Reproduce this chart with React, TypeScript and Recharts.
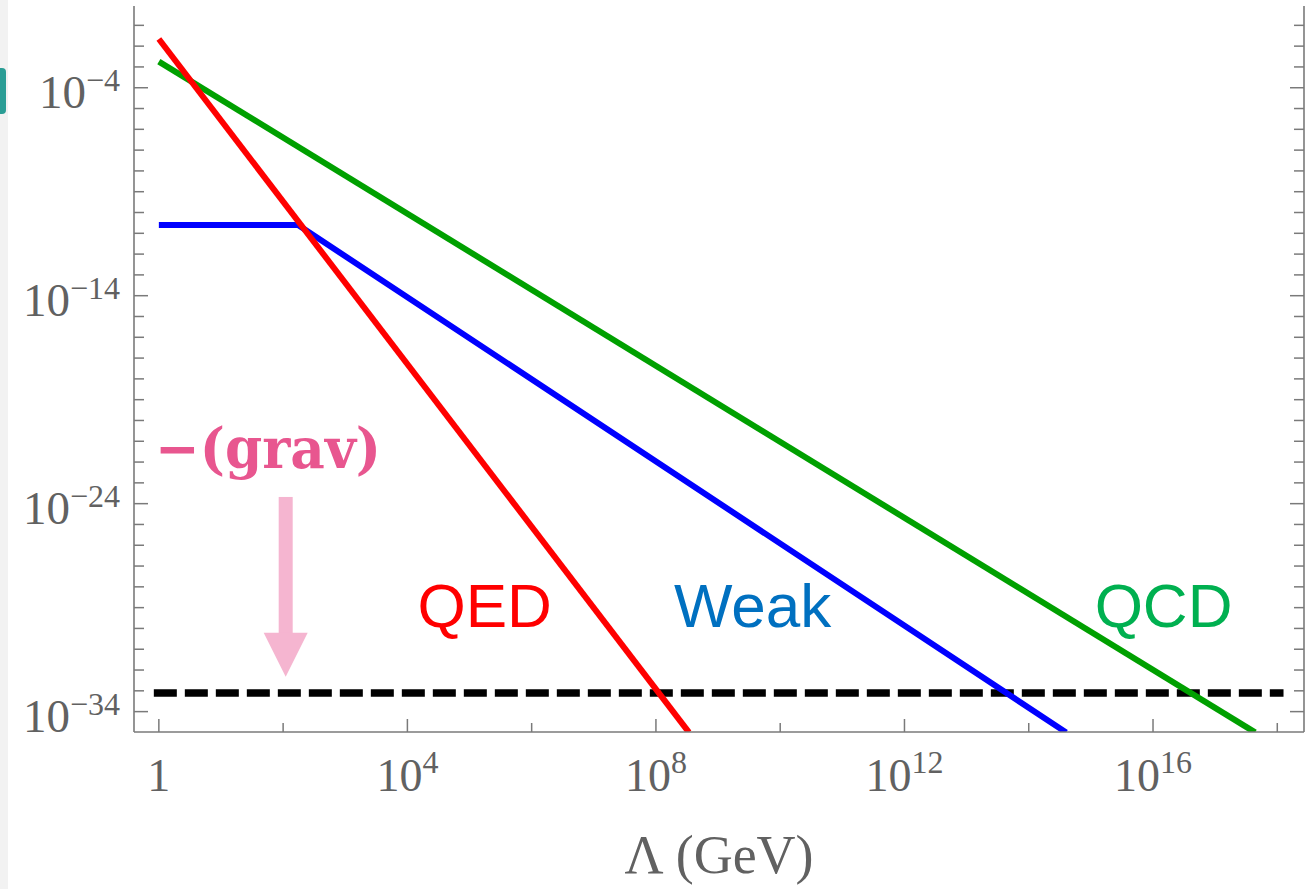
import React from 'react';
import { LineChart, Line, XAxis, YAxis, ReferenceLine, ReferenceDot } from 'recharts';

// x: Λ (GeV), y: coupling contribution (log-log)
const qedX = [1, 3.4e8];
const qedY = [2.2e-2, 1e-35];
const weakX = [1, 174, 4.0e14];
const weakY = [2.5e-11, 2.5e-11, 1e-35];
const qcdX = [1, 4.4e17];
const qcdY = [1.8e-3, 1e-35];
const gravX = [0.83, 1.26e18];
const gravY = [7.9e-34, 7.9e-34];

const xTickExp = [0, 2, 4, 6, 8, 10, 12, 14, 16, 18];
const xLabelExp = [0, 4, 8, 12, 16];
const yTickExp = [
  -34, -33, -32, -31, -30, -29, -28, -27, -26, -25, -24, -23, -22, -21, -20, -19, -18,
  -17, -16, -15, -14, -13, -12, -11, -10, -9, -8, -7, -6, -5, -4, -3, -2, -1,
];
const yLabelExp = [-34, -24, -14, -4];

const xDomain = [Math.pow(10, -0.4), Math.pow(10, 18.43)];
const yDomain = [Math.pow(10, -34.98), Math.pow(10, -0.07)];

const toPoints = (xs: number[], ys: number[]) => xs.map((x, i) => ({ x, y: ys[i] }));

const FRAME = '#7a7a7a';
const LABEL = '#616161';
const SERIF = '"Liberation Serif", "Times New Roman", serif';

const expOf = (v: number) => Math.round(Math.log10(v));

function XTick(props: any) {
  const { x, y, payload, top } = props;
  const e = expOf(payload.value);
  const major = xLabelExp.includes(e);
  const len = major ? 13 : 9;
  return (
    <g>
      <line x1={x} x2={x} y1={y} y2={top ? y + len : y - len} stroke={FRAME} strokeWidth={1.5} />
      {!top && major && (
        <text x={x} y={y + 59} textAnchor="middle" fill={LABEL} fontFamily={SERIF} fontSize={46}>
          {e === 0 ? (
            '1'
          ) : (
            <>
              <tspan>10</tspan>
              <tspan dy={-18} fontSize={32}>{e}</tspan>
            </>
          )}
        </text>
      )}
    </g>
  );
}

function YTick(props: any) {
  const { x, y, payload, right } = props;
  const e = expOf(payload.value);
  const major = yLabelExp.includes(e);
  const len = major ? 14 : 10;
  return (
    <g>
      <line x1={x} x2={right ? x - len : x + len} y1={y} y2={y} stroke={FRAME} strokeWidth={1.5} />
      {!right && major && (
        <text x={x - 14} y={y + 20} textAnchor="end" fill={LABEL} fontFamily={SERIF} fontSize={47}>
          <tspan>10</tspan>
          <tspan dy={-17} fontSize={32}>{'\u2212' + Math.abs(e)}</tspan>
        </text>
      )}
    </g>
  );
}

const Arrow = (p: any) => {
  const { x1, y1, y2 } = p;
  const head = 44;
  return (
    <g>
      <rect x={x1 - 7} y={y1} width={14} height={y2 - y1 - head + 2} fill="#f5b5d0" />
      <polygon points={`${x1 - 22},${y2 - head} ${x1 + 22},${y2 - head} ${x1},${y2}`} fill="#f5b5d0" />
    </g>
  );
};

const tag = (text: string, color: string, opts: any = {}) => (p: any) => (
  <text
    x={p.cx}
    y={p.cy}
    fill={color}
    fontFamily={opts.family || '"Liberation Sans", Arial, sans-serif'}
    fontWeight={opts.weight || 'normal'}
    fontSize={opts.size || 62}
    textLength={opts.length}
    lengthAdjust="spacingAndGlyphs"
  >
    {text}
  </text>
);

export default function App() {
  const axisLine = { stroke: FRAME, strokeWidth: 1.6 };
  return (
    <div style={{ position: 'absolute', left: 0, top: 0, width: 1306, height: 889, background: '#fff' }}>
      <LineChart width={1306} height={889} margin={{ top: 6, right: 0, bottom: 0, left: 0 }}>
        <XAxis
          xAxisId="b"
          type="number"
          dataKey="x"
          scale="log"
          domain={xDomain}
          allowDataOverflow
          ticks={xTickExp.map((e) => Math.pow(10, e))}
          interval={0}
          tick={<XTick />}
          tickLine={false}
          tickSize={0}
          tickMargin={0}
          axisLine={axisLine}
          height={157}
          label={{
            value: 'Λ (GeV)',
            position: 'insideBottom',
            offset: 16,
            fill: LABEL,
            fontSize: 54,
            fontFamily: SERIF,
          }}
        />
        <XAxis
          xAxisId="t"
          orientation="top"
          type="number"
          dataKey="x"
          scale="log"
          domain={xDomain}
          allowDataOverflow
          ticks={xTickExp.map((e) => Math.pow(10, e))}
          interval={0}
          tick={<XTick top />}
          tickLine={false}
          tickSize={0}
          tickMargin={0}
          axisLine={axisLine}
          height={0}
        />
        <YAxis
          yAxisId="l"
          type="number"
          dataKey="y"
          scale="log"
          domain={yDomain}
          allowDataOverflow
          ticks={yTickExp.map((e) => Math.pow(10, e))}
          interval={0}
          tick={<YTick />}
          tickLine={false}
          tickSize={0}
          tickMargin={0}
          axisLine={axisLine}
          width={134}
        />
        <YAxis
          yAxisId="r"
          orientation="right"
          type="number"
          dataKey="y"
          scale="log"
          domain={yDomain}
          allowDataOverflow
          ticks={yTickExp.map((e) => Math.pow(10, e))}
          interval={0}
          tick={<YTick right />}
          tickLine={false}
          tickSize={0}
          tickMargin={0}
          axisLine={axisLine}
          width={2}
        />
        <Line xAxisId="b" yAxisId="l" data={toPoints(gravX, gravY)} dataKey="y" stroke="#000" strokeWidth={7.5} strokeDasharray="23 8" dot={false} isAnimationActive={false} />
        <Line xAxisId="b" yAxisId="l" data={toPoints(qcdX, qcdY)} dataKey="y" stroke="#00a000" strokeWidth={6} dot={false} isAnimationActive={false} />
        <Line xAxisId="b" yAxisId="l" data={toPoints(weakX, weakY)} dataKey="y" stroke="#0000ff" strokeWidth={6} dot={false} isAnimationActive={false} />
        <Line xAxisId="b" yAxisId="l" data={toPoints(qedX, qedY)} dataKey="y" stroke="#ff0000" strokeWidth={6} dot={false} isAnimationActive={false} />
        <ReferenceLine
          xAxisId="b"
          yAxisId="l"
          segment={[{ x: 110, y: 2.1e-24 }, { x: 110, y: 4.7e-33 }]}
          shape={Arrow}
        />
        <ReferenceDot xAxisId="b" yAxisId="l" x={1.45e4} y={1.2e-30} shape={tag('QED', '#ff0000')} />
        <ReferenceDot xAxisId="b" yAxisId="l" x={1.95e8} y={1.2e-30} shape={tag('Weak', '#0070c0')} />
        <ReferenceDot xAxisId="b" yAxisId="l" x={1.15e15} y={1.2e-30} shape={tag('QCD', '#00b050')} />
        <ReferenceDot
          xAxisId="b"
          yAxisId="l"
          x={0.87}
          y={5.2e-23}
          shape={tag('\u2212(grav)', '#e8568f', { family: '"DejaVu Serif", serif', weight: 'bold', size: 56, length: 226 })}
        />
      </LineChart>
      <div style={{ position: 'absolute', left: 0, top: 0, width: 8, height: 889, background: '#f2f2f2' }} />
      <div
        style={{
          position: 'absolute',
          left: 0,
          top: 68,
          width: 6,
          height: 46,
          background: '#2a9d95',
          borderRadius: '0 4px 4px 0',
        }}
      />
    </div>
  );
}
